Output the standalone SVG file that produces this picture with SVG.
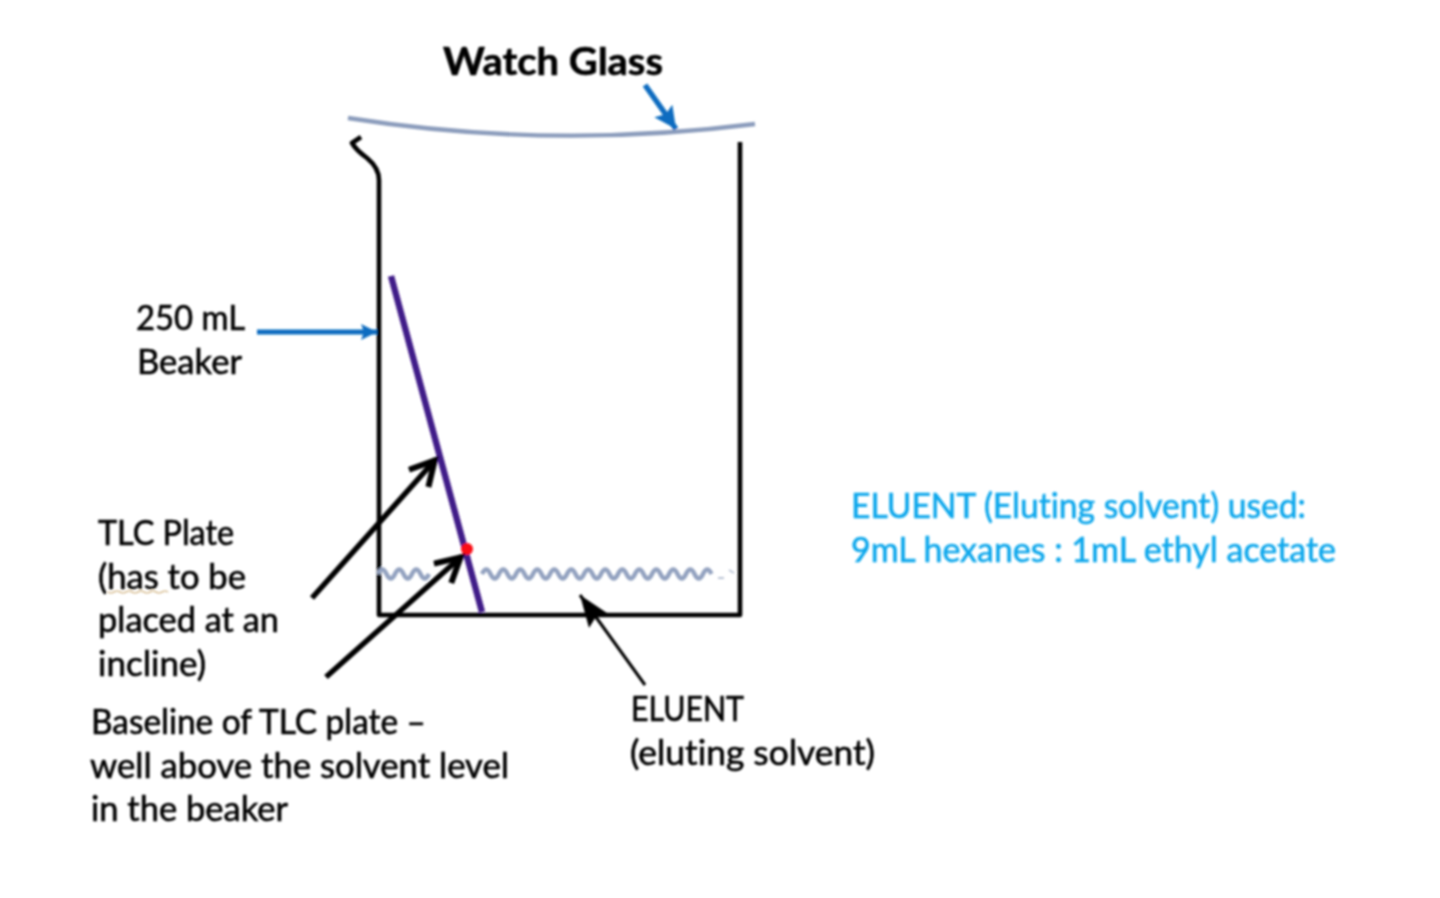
<svg xmlns="http://www.w3.org/2000/svg" width="1440" height="898" viewBox="0 0 1440 898">
<style>
text{font-family:Lato,"Open Sans","Liberation Sans",sans-serif;font-size:34px;fill:#000;stroke:#000;stroke-width:.6;font-variant-ligatures:none}
text.b{fill:#0fa8ec;stroke:#0fa8ec}
.k{fill:none;stroke:#000;stroke-linecap:butt}
.beaker{fill:none;stroke:#000;stroke-width:4.6;stroke-linejoin:round}
.wave{fill:none;stroke:#93a2c0;stroke-width:4.4}
</style>
<defs>
<filter id="soft" x="-5%" y="-5%" width="110%" height="110%"><feGaussianBlur stdDeviation="0.9"/></filter>
<marker id="bh" markerUnits="userSpaceOnUse" markerWidth="26" markerHeight="26" refX="22" refY="11" orient="auto"><path d="M0 0L22 11L0 22L4 11Z" fill="#0b6cc0"/></marker>
<marker id="bs" markerUnits="userSpaceOnUse" markerWidth="20" markerHeight="20" refX="16" refY="8" orient="auto"><path d="M0 0L16 8L0 16L3 8Z" fill="#0b6cc0"/></marker>
<marker id="kh" markerUnits="userSpaceOnUse" markerWidth="34" markerHeight="34" refX="29" refY="15" orient="auto"><path d="M3 2L27 15L3 28" fill="none" stroke="#000" stroke-width="6"/></marker>
<marker id="kf" markerUnits="userSpaceOnUse" markerWidth="36" markerHeight="30" refX="32" refY="12" orient="auto"><path d="M0 0L32 12L0 24L5 12Z" fill="#000"/></marker>
</defs>
<rect width="1440" height="898" fill="#fff"/>
<g filter="url(#soft)">
<g id="watch-glass">
<path d="M348 118Q550 150 755 124" fill="none" stroke="#8b9cbc" stroke-width="4.4"/>
<text x="443" y="75" style="font-size:38px;font-weight:700" textLength="220" lengthAdjust="spacingAndGlyphs">Watch Glass</text>
</g>
<g id="beaker">
<path class="beaker" d="M361 137L352 143Q356 150 367 158Q379 168 379 180V615H740V142"/>
<text x="136" y="330" textLength="109" lengthAdjust="spacingAndGlyphs">250 mL</text>
<text x="137" y="374" textLength="105" lengthAdjust="spacingAndGlyphs">Beaker</text>
</g>
<g id="eluent">
<path class="wave" d="M378 574q4.25-9 8.5 0t8.5 0t8.5 0t8.5 0t8.5 0t8.5 0"/>
<path class="wave" d="M482 574q4.25-9 8.5 0t8.5 0t8.5 0t8.5 0t8.5 0t8.5 0t8.5 0t8.5 0t8.5 0t8.5 0t8.5 0t8.5 0t8.5 0t8.5 0t8.5 0t8.5 0t8.5 0t8.5 0t8.5 0t8.5 0t8.5 0t8.5 0t8.5 0t8.5 0t8.5 0t8.5 0t8.5 0"/>
<path d="M718 578h6M729 570l5 3" fill="none" stroke="#b9c3d4" stroke-width="2"/>
<text x="631" y="721" textLength="113" lengthAdjust="spacingAndGlyphs">ELUENT</text>
<text x="630" y="765" textLength="245" lengthAdjust="spacingAndGlyphs">(eluting solvent)</text>
</g>
<g id="tlc-plate">
<path d="M391 276L482 612" fill="none" stroke="#3f1a88" stroke-width="6.4"/>
<circle cx="467" cy="549" r="6" fill="#fa0a14"/>
<text x="98" y="545" textLength="136" lengthAdjust="spacingAndGlyphs">TLC Plate</text>
<text x="98" y="589" textLength="148" lengthAdjust="spacingAndGlyphs">(has to be</text>
<path d="M108 592q3 2 6 0t6 0t6 0t6 0t6 0t6 0t6 0t6 0t6 0t6 0" fill="none" stroke="#c9a66b" stroke-width="1.2"/>
<text x="98" y="632" textLength="181" lengthAdjust="spacingAndGlyphs">placed at an</text>
<text x="98" y="676" textLength="108" lengthAdjust="spacingAndGlyphs">incline)</text>
<text x="91" y="734" textLength="335" lengthAdjust="spacingAndGlyphs">Baseline of TLC plate –</text>
<text x="90" y="778" textLength="419" lengthAdjust="spacingAndGlyphs">well above the solvent level</text>
<text x="91" y="821" textLength="197" lengthAdjust="spacingAndGlyphs">in the beaker</text>
</g>
<g id="eluent-note">
<text class="b" x="851" y="518" textLength="455" lengthAdjust="spacingAndGlyphs">ELUENT (Eluting solvent) used:</text>
<text class="b" x="851" y="562" textLength="485" lengthAdjust="spacingAndGlyphs">9mL hexanes : 1mL ethyl acetate</text>
</g>
<g id="connectors">
<path d="M645 85L676 129" fill="none" stroke="#0b6cc0" stroke-width="5.5" marker-end="url(#bh)"/>
<path d="M257 332H377" fill="none" stroke="#0b6cc0" stroke-width="4.8" marker-end="url(#bs)"/>
<path class="k" d="M312 598L436 459" stroke-width="5.5" marker-end="url(#kh)"/>
<path class="k" d="M326 677L462 556" stroke-width="5.5" marker-end="url(#kh)"/>
<path class="k" d="M645 685L580 595" stroke-width="3" marker-end="url(#kf)"/>
</g>
</g>
</svg>
